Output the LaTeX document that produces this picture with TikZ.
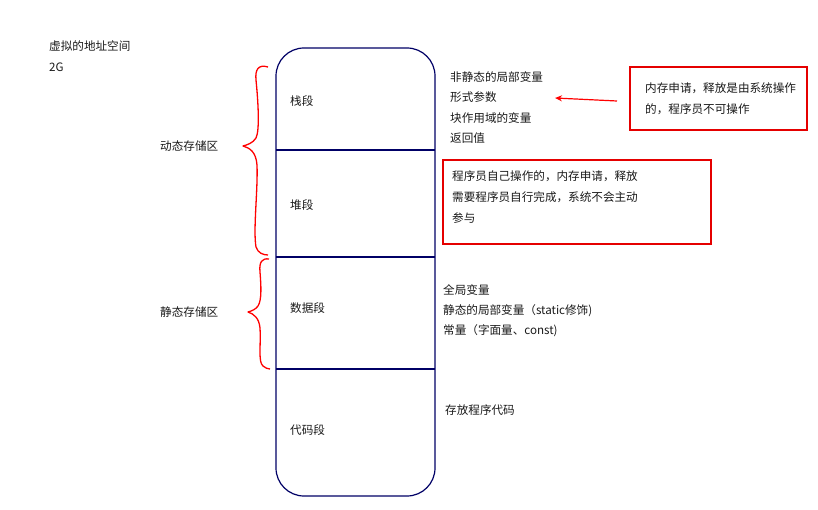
\documentclass[tikz,border=0pt]{standalone}
\usepackage{fontspec}
\setmainfont{Noto Sans CJK SC}
\usetikzlibrary{arrows.meta}
\begin{document}
\begin{tikzpicture}[x=1pt,y=-1pt,
  txt/.style={anchor=west,inner sep=0pt,font=\fontsize{11.6}{13}\selectfont,text=black!90},
  seg/.style={draw=blue!40!black,line width=1.2pt},
  redbox/.style={draw=red!90!black,line width=1.2pt},
  brace/.style={draw=red,line width=1.3pt,line join=round}]
\useasboundingbox (0,0) rectangle (818,510);
% memory column
\draw[seg,rounded corners=28pt] (276,48) rectangle (435,496);
\coordinate (d1l) at (276,150); \coordinate (d1r) at (435,150);
\coordinate (d2l) at (276,257); \coordinate (d2r) at (435,257);
\coordinate (d3l) at (276,369); \coordinate (d3r) at (435,369);
\draw[seg] (d1l) -- (d1r);
\draw[seg] (d2l) -- (d2r);
\draw[seg] (d3l) -- (d3r);
\node[txt] (stack) at (290,101) {栈段};
\node[txt] (heap) at (290,205) {堆段};
\node[txt] (data) at (290,308) {数据段};
\node[txt] (code) at (290,430) {代码段};
% top-left
\node[txt] (title) at (49,46) {虚拟的地址空间};
\node[txt] (twog) at (49,67) {2G};
% braces
\draw[brace] (268,67) .. controls (258,64) and (255,70) .. (256,80)
  .. controls (258,100) and (260,130) .. (256,138)
  .. controls (253,143) and (247,145) .. (243,146)
  .. controls (250,148) and (256,152) .. (257,165)
  .. controls (258,190) and (253,230) .. (256,247)
  .. controls (258,253) and (263,255) .. (268,255);
\draw[brace] (269,259) .. controls (262,258) and (259,262) .. (260,272)
  .. controls (261,285) and (262,300) .. (258,306)
  .. controls (256,309) and (252,311) .. (248,312)
  .. controls (254,314) and (259,318) .. (260,328)
  .. controls (261,345) and (258,362) .. (263,366)
  .. controls (265,368) and (268,369) .. (270,369);
\node[txt] (dyn) at (160,146) {动态存储区};
\node[txt] (sta) at (160,312) {静态存储区};
% stack notes
\node[txt] (s1) at (450,77) {非静态的局部变量};
\node[txt] (s2) at (450,97) {形式参数};
\node[txt] (s3) at (450,118) {块作用域的变量};
\node[txt] (s4) at (450,138) {返回值};
% red box 1
\node[redbox,minimum width=177pt,minimum height=63pt,inner sep=0pt] (box1) at (718.5,98.5) {};
\node[txt] (b1a) at (645,88) {内存申请，释放是由系统操作};
\node[txt] (b1b) at (645,109) {的，程序员不可操作};
\coordinate (arrS) at (617,101);
\coordinate (arrE) at (555,98);
\draw[red,line width=1.2pt,-{Stealth[length=7pt,width=6pt]}] (arrS) -- (arrE);
% red box 2
\node[redbox,minimum width=268pt,minimum height=84pt,inner sep=0pt] (box2) at (577,202) {};
\node[txt] (b2a) at (452,176) {程序员自己操作的，内存申请，释放};
\node[txt] (b2b) at (452,197) {需要程序员自行完成，系统不会主动};
\node[txt] (b2c) at (452,218) {参与};
% data notes
\node[txt] (g1) at (443,290) {全局变量};
\node[txt] (g2) at (443,311) {静态的局部变量（static修饰)};
\node[txt] (g3) at (443,331) {常量（字面量、const)};
% code note
\node[txt] (c1) at (445,410) {存放程序代码};
\end{tikzpicture}
\end{document}
